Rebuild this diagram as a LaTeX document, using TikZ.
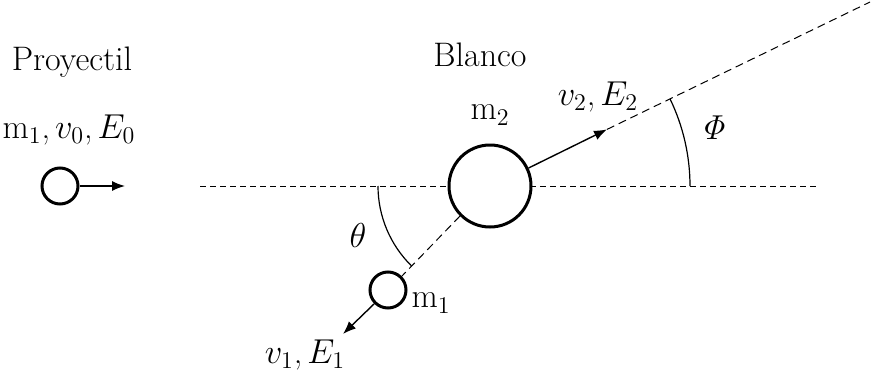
\documentclass[tikz,border=0pt]{standalone}
\usetikzlibrary{arrows.meta,calc}
\begin{document}
\begin{tikzpicture}[x=0.5pt,y=0.5pt,
  lbl/.style={font=\fontsize{17}{20}\selectfont, inner sep=0pt},
  ball/.style={circle, draw, line width=1.5pt, inner sep=0pt},
  vec/.style={line width=0.7pt, -{Latex[length=6.5pt,width=5pt]}},
  dsh/.style={line width=0.5pt, dash pattern=on 3pt off 2pt},
  ldsh/.style={line width=0.5pt, dash pattern=on 4pt off 2.5pt},
  ang/.style={line width=0.6pt}]
\useasboundingbox (0,0) rectangle (873,371);
% labels
\node[lbl] (proy) at (72,309) {Proyectil};
\node[lbl] (pl) at (69,241) {m$_1$,\kern2.5pt$v_0$,\kern2.5pt$E_0$};
\node[lbl] (blanco) at (480,316) {Blanco};
\node[lbl] (m2) at (490,256) {m$_2$};
% projectile
\node[ball, minimum size=18pt] (p) at (60,185) {};
\coordinate (pe) at (125,185);
\draw[vec] (p.east) -- (pe);
% horizontal axis
\coordinate (hl) at (200,185);
\coordinate (hr) at (818,185);
\draw[dsh] (hl) -- (hr);
% target
\node[ball, minimum size=41pt, fill=white] (B) at (490,185) {};
% outgoing target
\coordinate (v2t) at (607,241.6);
\coordinate (far) at (870,369);
\draw[vec] (B.25.8) -- (v2t);
\draw[ldsh] (v2t) -- (far);
\node[lbl] (v2l) at (598,274) {$v_2$,\kern2.5pt$E_2$};
% phi arc
\draw[ang] ($(B.center)+(200,0)$) arc[start angle=0, end angle=25.8, radius=100pt];
\node[lbl] (phi) at (713,243) {$\mathit{\Phi}$};
% scattered projectile
\node[ball, minimum size=18pt] (C) at (388,81) {};
\draw[ldsh] (B.225.55) -- (C.45.55);
\draw[ang] ($(B.center)+(-112,0)$) arc[start angle=180, end angle=225.5, radius=56pt];
\node[lbl] (th) at (358,136) {$\theta$};
\node[lbl] (m1) at (431,68) {m$_1$};
\coordinate (v1t) at (343,37);
\draw[vec] (C.225) -- (v1t);
\node[lbl] (v1l) at (305,16) {$v_1$,\kern2.5pt$E_1$};
\end{tikzpicture}
\end{document}
